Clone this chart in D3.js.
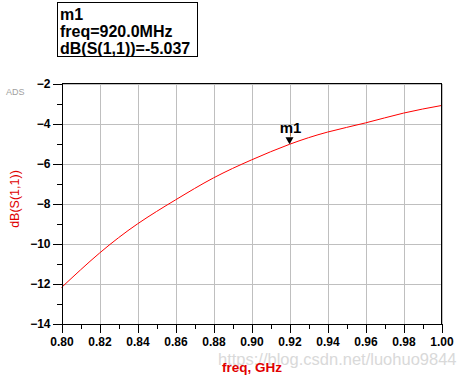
<!DOCTYPE html>
<html><head><meta charset="utf-8">
<script src="https://cdn.jsdelivr.net/npm/d3@7"></script>
<style>
html,body{margin:0;padding:0;background:#fff;}
svg{display:block;}
.tk text{font-family:"Liberation Sans",Arial,sans-serif;font-weight:bold;font-size:12px;fill:#000;}
</style></head>
<body>
<script>
const freqGHz = [0.80, 0.82, 0.84, 0.86, 0.88, 0.90, 0.92, 0.94, 0.96, 0.98, 1.00];
const dbS11   = [-12.2, -10.48, -9.02, -7.82, -6.72, -5.82, -5.04, -4.43, -3.97, -3.48, -3.1];
const xTicks = [0.80, 0.82, 0.84, 0.86, 0.88, 0.90, 0.92, 0.94, 0.96, 0.98, 1.00];
const xMinor = [0.81, 0.83, 0.85, 0.87, 0.89, 0.91, 0.93, 0.95, 0.97, 0.99];
const yTicks = [-14, -12, -10, -8, -6, -4, -2];
const yMinor = [-13, -11, -9, -7, -5, -3];
const markerName = "m1";
const markerFreq = 0.92;
const markerVal = -5.037;
const markerLines = ["m1", "freq=920.0MHz", "dB(S(1,1))=-5.037"];

const W = 457, H = 378;
const svg = d3.select("body").append("svg").attr("width", W).attr("height", H);

const x = d3.scaleLinear().domain([0.8, 1.0]).range([61.5, 441.5]);
const y = d3.scaleLinear().domain([-14, -2]).range([323.5, 83.5]);

// watermark
svg.append("text").attr("x", 218).attr("y", 365)
  .attr("font-family", "Liberation Sans, Arial, sans-serif").attr("font-size", 16.5)
  .attr("fill", "#d9d9d9").text("https://blog.csdn.net/luohuo9844");

// grid
svg.append("g").attr("transform", "translate(0,323.5)")
  .call(d3.axisBottom(x).tickValues(xTicks).tickSize(-240).tickFormat(""))
  .call(g => g.select(".domain").remove())
  .call(g => g.selectAll("line").attr("stroke", "#bfbfbf").attr("shape-rendering", "crispEdges"));
svg.append("g").attr("transform", "translate(61.5,0)")
  .call(d3.axisLeft(y).tickValues(yTicks).tickSize(-380).tickFormat(""))
  .call(g => g.select(".domain").remove())
  .call(g => g.selectAll("line").attr("stroke", "#bfbfbf").attr("shape-rendering", "crispEdges"));

// curve
const line = d3.line().x((d, i) => x(freqGHz[i])).y(d => y(d)).curve(d3.curveNatural);
svg.append("path").datum(dbS11).attr("d", line).attr("fill", "none")
  .attr("stroke", "#ff0000").attr("stroke-width", 1);

// axes
svg.append("g").attr("class", "tk").attr("transform", "translate(0,323.5)")
  .call(d3.axisBottom(x).tickValues(xTicks).tickSize(9).tickPadding(5).tickFormat(d3.format(".2f")))
  .call(g => g.select(".domain").attr("stroke", "#000").attr("shape-rendering", "crispEdges"))
  .call(g => g.selectAll("line").attr("stroke", "#000").attr("shape-rendering", "crispEdges"));
svg.append("g").attr("transform", "translate(0,323.5)")
  .call(d3.axisBottom(x).tickValues(xMinor).tickSize(5).tickFormat(""))
  .call(g => g.select(".domain").remove())
  .call(g => g.selectAll("line").attr("stroke", "#000").attr("shape-rendering", "crispEdges"));
svg.append("g").attr("class", "tk").attr("transform", "translate(61.5,0)")
  .call(d3.axisLeft(y).tickValues(yTicks).tickSize(9).tickPadding(2).tickFormat(d3.format("d")))
  .call(g => g.select(".domain").attr("stroke", "#000").attr("shape-rendering", "crispEdges"))
  .call(g => g.selectAll("line").attr("stroke", "#000").attr("shape-rendering", "crispEdges"));
svg.append("g").attr("transform", "translate(61.5,0)")
  .call(d3.axisLeft(y).tickValues(yMinor).tickSize(5).tickFormat(""))
  .call(g => g.select(".domain").remove())
  .call(g => g.selectAll("line").attr("stroke", "#000").attr("shape-rendering", "crispEdges"));
// top & right borders
svg.append("line").attr("x1", x(0.8)).attr("x2", x(1.0)).attr("y1", y(-2)).attr("y2", y(-2))
  .attr("stroke", "#000").attr("shape-rendering", "crispEdges");
svg.append("line").attr("x1", x(1.0)).attr("x2", x(1.0)).attr("y1", y(-2)).attr("y2", y(-14))
  .attr("stroke", "#000").attr("shape-rendering", "crispEdges");

// axis titles
svg.append("text").attr("x", 252).attr("y", 372).attr("text-anchor", "middle")
  .attr("font-family", "Liberation Sans, Arial, sans-serif").attr("font-weight", "bold")
  .attr("font-size", 13.5).attr("fill", "#e00000").text("freq, GHz");
svg.append("text").attr("transform", "translate(19,199) rotate(-90)").attr("text-anchor", "middle")
  .attr("font-family", "Liberation Sans, Arial, sans-serif")
  .attr("font-size", 12.5).attr("fill", "#e00000").text("dB(S(1,1))");

// ADS label
svg.append("text").attr("x", 6).attr("y", 95)
  .attr("font-family", "Liberation Sans, Arial, sans-serif").attr("font-size", 9)
  .attr("fill", "#a0a0a0").text("ADS");

// marker
const mx = x(markerFreq), my = y(markerVal);
svg.append("line").attr("x1", Math.round(mx) + 0.5).attr("x2", Math.round(mx) + 0.5)
  .attr("y1", my - 19).attr("y2", my - 8).attr("stroke", "#b07840");
svg.append("path")
  .attr("d", `M${mx - 4},${my - 7} L${mx + 4},${my - 7} L${mx},${my} Z`).attr("fill", "#000");
svg.append("text").attr("x", mx + 1).attr("y", my - 11.5).attr("text-anchor", "middle")
  .attr("font-family", "Liberation Sans, Arial, sans-serif").attr("font-weight", "bold")
  .attr("font-size", 15).attr("fill", "#000").text(markerName);

// marker readout box
svg.append("rect").attr("x", 57.5).attr("y", 2.5).attr("width", 140).attr("height", 54)
  .attr("fill", "#fff").attr("stroke", "#000");
markerLines.forEach((t, i) => {
  svg.append("text").attr("x", 60).attr("y", 20 + i * 17)
    .attr("font-family", "Liberation Sans, Arial, sans-serif").attr("font-weight", "bold")
    .attr("font-size", 16).attr("fill", "#000").text(t);
});
</script>
</body></html>
